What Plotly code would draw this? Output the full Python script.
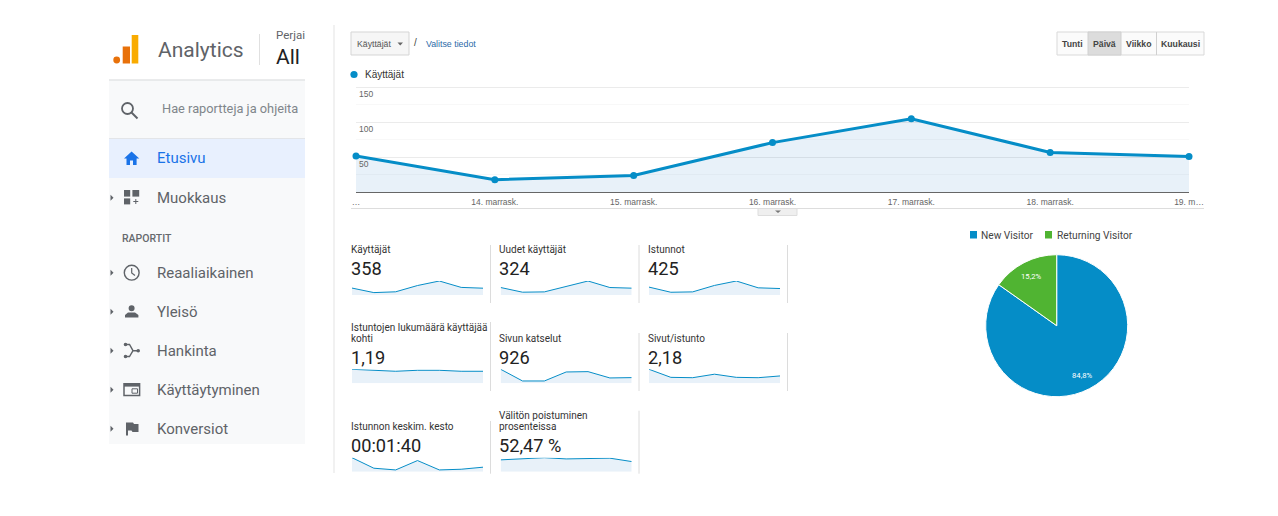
import plotly.graph_objects as go

# page has an 8px body margin, so the figure is that much smaller than the window
PAGE_MARGIN = 8
W = 1278 - PAGE_MARGIN
H = 516 - PAGE_MARGIN

# main line chart
days = ['…', '14. marrask.', '15. marrask.', '16. marrask.', '17. marrask.', '18. marrask.', '19. m…']
users_daily = [52, 18, 24, 71, 105, 57, 51]
y_ticks = [50, 100, 150]

# metric panels, daily values read from the sparklines
metric_names = ['Käyttäjät', 'Uudet käyttäjät', 'Istunnot',
                'Istuntojen lukumäärä käyttäjää<br>kohti', 'Sivun katselut', 'Sivut/istunto',
                'Istunnon keskim. kesto', 'Välitön poistuminen<br>prosenteissa']
metric_values = ['358', '324', '425', '1,19', '926', '2,18', '00:01:40', '52,47 %']
new_users = [48, 18, 20, 55, 90, 48, 44]
sessions = [66, 23, 26, 80, 117, 60, 54]
sessions_per_user = [1.27, 1.21, 1.09, 1.18, 1.18, 1.09, 1.09]
page_views = [246, 41, 41, 199, 205, 94, 100]
pages_per_session = [4.0, 1.7, 1.6, 2.6, 1.7, 1.6, 2.1]
avg_duration = [245, 61, 31, 195, 31, 43, 79]
bounce_rate = [49, 53, 58, 53, 53, 56, 42]
metric_series = [users_daily, new_users, sessions, sessions_per_user, page_views,
                 pages_per_session, avg_duration, bounce_rate]

# pie
pie_labels = ['New Visitor', 'Returning Visitor']
pie_values = [84.8, 15.2]
pie_texts = ['84,8%', '15,2%']

# sidebar
nav_items = ['Reaaliaikainen', 'Yleisö', 'Hankinta', 'Käyttäytyminen', 'Konversiot']
period_buttons = ['Tunti', 'Päivä', 'Viikko', 'Kuukausi']

BLUE = '#058dc7'
GREEN = '#50b432'
FILL = 'rgba(0,100,190,0.09)'
GREY = '#5f6368'
ARIAL = 'Liberation Sans'
ROBOTO = 'Roboto'

shapes = []
annotations = []


# window pixels to paper fractions
def px(x):
    return (x - PAGE_MARGIN) / W


def py(y):
    return 1 - (y - PAGE_MARGIN) / H


def rect(x0, y0, x1, y1, fill=None, line=None, width=1):
    shapes.append(dict(type='rect', xref='paper', yref='paper', x0=px(x0), x1=px(x1),
                       y0=py(y0), y1=py(y1), fillcolor=fill or 'rgba(0,0,0,0)',
                       line=dict(color=line or 'rgba(0,0,0,0)', width=width if line else 0)))


def hline(x0, x1, y, color, width=1):
    shapes.append(dict(type='line', xref='paper', yref='paper', x0=px(x0), x1=px(x1),
                       y0=py(y), y1=py(y), line=dict(color=color, width=width)))


def vline(x, y0, y1, color, width=1):
    shapes.append(dict(type='line', xref='paper', yref='paper', x0=px(x), x1=px(x),
                       y0=py(y0), y1=py(y1), line=dict(color=color, width=width)))


# cmds is a list like 'M', (x, y), 'L', (x, y) in window pixels
def path(cmds, fill=None, line=None, width=1):
    out = []
    for c in cmds:
        if isinstance(c, str):
            out.append(c)
        else:
            out.append(f'{px(c[0]):.5f},{py(c[1]):.5f}')
    shapes.append(dict(type='path', xref='paper', yref='paper', path=' '.join(out),
                       fillcolor=fill or 'rgba(0,0,0,0)',
                       line=dict(color=line or 'rgba(0,0,0,0)', width=width if line else 0)))


def circle(cx, cy, r, fill=None, line=None, width=1):
    shapes.append(dict(type='circle', xref='paper', yref='paper', x0=px(cx - r), x1=px(cx + r),
                       y0=py(cy - r), y1=py(cy + r), fillcolor=fill or 'rgba(0,0,0,0)',
                       line=dict(color=line or 'rgba(0,0,0,0)', width=width if line else 0)))


def label(x, y, text, size, color='#333333', family=ROBOTO, anchor='left', weight=None):
    annotations.append(dict(xref='paper', yref='paper', x=px(x), y=py(y), text=text, showarrow=False,
                            xanchor=anchor, yanchor='middle', align='left', borderpad=0, borderwidth=0,
                            font=dict(size=size, color=color, family=family, weight=weight)))


fig = go.Figure()

# sidebar background
rect(109, 80, 305, 444, fill='#f8f9fa')
hline(109, 305, 80, '#e3e4e6', 1.5)
hline(109, 305, 138.5, '#e3e5e8')
rect(109, 139, 305, 178, fill='#e8f0fe')

# logo and header
circle(116.7, 60, 3.4, fill='#e8710a')
rect(122.7, 46.5, 130, 63.5, fill='#e8710a')
rect(131.7, 35, 138.3, 63.5, fill='#f9ab00')
label(158, 50, 'Analytics', 21, GREY)
vline(259.5, 34, 65, '#e0e0e0')
label(276, 35, 'Perjai', 11.5, GREY)
label(276, 57, 'All', 21, '#202124')

# search
circle(127.5, 108.5, 5.5, line=GREY, width=1.8)
path(['M', (131.5, 112.5), 'L', (137.5, 118.5)], line=GREY, width=2)
label(162, 109, 'Hae raportteja ja ohjeita', 12.8, '#80868b')

# nav
label(157, 158.5, 'Etusivu', 15, '#1a73e8')
label(157, 197.5, 'Muokkaus', 15, GREY)
label(122, 238.5, 'RAPORTIT', 10.5, '#666a6e', weight=500)
for i, item in enumerate(nav_items):
    label(157, 272.5 + 39 * i, item, 15, GREY)

# expand arrows
for y in [197.7, 272.7, 311.7, 350.7, 389.7, 428.7]:
    path(['M', (110.5, y - 3), 'L', (113.5, y), 'L', (110.5, y + 3), 'Z'], fill=GREY)

# home icon
path(['M', (131.6, 151.5), 'L', (124, 158.6), 'L', (126.5, 158.6), 'L', (126.5, 165), 'L', (130, 165),
      'L', (130, 160.5), 'L', (133, 160.5), 'L', (133, 165), 'L', (136.6, 165), 'L', (136.6, 158.6),
      'L', (139.3, 158.6), 'Z'], fill='#1a73e8')
# customise icon
rect(124, 190, 130.2, 196.6, fill=GREY)
rect(132.4, 190, 139.2, 196.6, fill=GREY)
rect(124, 198.4, 130.2, 204.4, fill=GREY)
path(['M', (135.8, 199), 'L', (135.8, 204), 'M', (133.3, 201.5), 'L', (138.3, 201.5)], line=GREY, width=1)
# clock
circle(131.7, 272.7, 7.4, line=GREY, width=1.4)
path(['M', (131.7, 268), 'L', (131.7, 273), 'L', (135, 275.5)], line=GREY, width=1.2)
# person
circle(131.6, 308.2, 3, fill=GREY)
path(['M', (125, 317.4), 'L', (125, 315), 'L', (128, 312.6), 'L', (135, 312.6), 'L', (138.4, 315),
      'L', (138.4, 317.4), 'Z'], fill=GREY)
# acquisition
path(['M', (125.5, 344.5), 'L', (129.5, 344.5), 'L', (133, 350.7), 'L', (138, 350.7),
      'M', (133, 350.7), 'L', (129.5, 356.5), 'L', (125.5, 356.5)], line=GREY, width=1.4)
circle(125.5, 344.5, 1.8, fill=GREY)
circle(125.5, 356.5, 1.8, fill=GREY)
circle(138.2, 350.7, 1.8, fill=GREY)
# behaviour
rect(124, 383.8, 139.6, 395.4, line=GREY, width=1.5)
rect(124, 383.8, 139.6, 386.6, fill=GREY)
rect(132, 388.8, 137.5, 393.2, line=GREY, width=1)
# flag
path(['M', (126, 422.5), 'L', (133, 422.5), 'L', (134, 424), 'L', (138.5, 424), 'L', (138.5, 432),
      'L', (132.5, 432), 'L', (131.5, 430.5), 'L', (128, 430.5), 'L', (128, 435.5), 'L', (126, 435.5), 'Z'],
     fill=GREY)

# divider between nav and report
vline(334, 25, 473, '#f1f1f1', 2)

# controls above the chart
rect(351, 32, 409, 55, fill='#f6f6f6', line='#d5d5d5')
label(357, 44, 'Käyttäjät', 8.7, '#555555', ARIAL)
path(['M', (397.5, 42.5), 'L', (403, 42.5), 'L', (400.2, 45.5), 'Z'], fill='#666666')
label(413.5, 43, '/', 10, '#444444', ARIAL)
label(426, 44, 'Valitse tiedot', 8.8, '#2b6aa8', ARIAL)

# period buttons
button_edges = [1057, 1088, 1121, 1156.5, 1204]
rect(1057, 32, 1204, 55, fill='#fbfbfb', line='#d9d9d9')
rect(1088, 32, 1121, 55, fill='#dcdcdc', line='#d0d0d0')
for i, name in enumerate(period_buttons):
    if i == 3:
        vline(button_edges[i], 32, 55, '#d0d0d0')
    label((button_edges[i] + button_edges[i + 1]) / 2, 43.7, name, 8.7, '#444444', ARIAL,
          anchor='center', weight='bold')

# legend of the line chart
circle(354, 74.5, 3.6, fill=BLUE)
label(365, 74.5, 'Käyttäjät', 10, '#333333', ARIAL)

# top edge of the plot, the grid does not show there
hline(356, 1189, 87.5, '#ebebeb')

# handle under the chart
hline(351, 1204, 208.5, '#dddddd')
rect(758, 208.5, 797, 215.5, fill='#efefef', line='#dddddd')
path(['M', (775, 210.5), 'L', (781, 210.5), 'L', (778, 213), 'Z'], fill='#777777')

# main chart
fig.add_trace(go.Scatter(x=days, y=users_daily, mode='lines+markers', fill='tozeroy', fillcolor=FILL,
                         line=dict(color=BLUE, width=3), marker=dict(color=BLUE, size=7),
                         cliponaxis=False, showlegend=False, hoverinfo='x+y'))

# the default template turns automargin on, which would shrink the paper area
layout_axes = dict(
    xaxis=dict(domain=[px(356), px(1189)], type='category', categoryorder='array', categoryarray=days,
               range=[0, 6], anchor='y', showgrid=False, showline=True, linecolor='#666666', linewidth=1,
               ticks='outside', ticklen=1, tickcolor='rgba(0,0,0,0)', tickangle=0, zeroline=False,
               automargin=False, tickfont=dict(size=8.5, color='#666666', family=ARIAL)),
    yaxis=dict(domain=[py(192.3), py(87.3)], range=[0, 150], dtick=50, anchor='x', showticklabels=False,
               showgrid=True, gridcolor='#ebebeb', gridwidth=1, zeroline=False, automargin=False,
               minor=dict(dtick=25, showgrid=True, gridcolor='#f8f8f8', gridwidth=1)),
)

for tick in y_ticks:
    annotations.append(dict(xref='paper', yref='y', x=px(358), y=tick, yshift=-7, text=str(tick),
                            showarrow=False, xanchor='left', yanchor='middle', borderpad=0,
                            font=dict(size=8.5, color='#666666', family=ARIAL)))

# metric panels
col_x = [351, 499, 648]
spark_left = [352, 500.7, 649]
spark_width = 131
sep_x = [490.5, 639, 787.5]
name_y = [249.5, 338.5, 426.7]
value_y = [268.5, 357.5, 445.5]
spark_bottom = [295, 383.3, 471.7]
sep_tops = [[245, 245, 245], [322, 333, 333], [421, 410.7, None]]
sep_bottoms = [303, 391, 473.7]

for r in range(3):
    for c in range(3):
        if sep_tops[r][c] is not None:
            vline(sep_x[c], sep_tops[r][c], sep_bottoms[r], '#dcdcdc')

for i, (name, value, series) in enumerate(zip(metric_names, metric_values, metric_series)):
    r, c = divmod(i, 3)
    if '<br>' in name:
        first, second = name.split('<br>')
        label(col_x[c], name_y[r] - 11.3, first, 10, '#333333')
        label(col_x[c], name_y[r], second, 10, '#333333')
    else:
        label(col_x[c], name_y[r], name, 10, '#333333')
    label(col_x[c], value_y[r], value, 18.2, '#222222')

    n = i + 2
    fig.add_trace(go.Scatter(x=list(range(len(series))), y=series, mode='lines', fill='tozeroy', fillcolor=FILL,
                             line=dict(color=BLUE, width=1), cliponaxis=False, showlegend=False,
                             xaxis=f'x{n}', yaxis=f'y{n}', hoverinfo='y'))
    layout_axes[f'xaxis{n}'] = dict(domain=[px(spark_left[c]), px(spark_left[c] + spark_width)],
                                    range=[0, 6], visible=False, anchor=f'y{n}')
    layout_axes[f'yaxis{n}'] = dict(domain=[py(spark_bottom[r]), py(spark_bottom[r] - 14)],
                                    range=[0, max(series)], visible=False, anchor=f'x{n}')

# pie
fig.add_trace(go.Pie(labels=pie_labels, values=pie_values, sort=False, direction='clockwise', rotation=0,
                     marker=dict(colors=[BLUE, GREEN], line=dict(color='white', width=1)),
                     domain=dict(x=[px(985.7), px(1127.7)], y=[py(396.7), py(254.7)]),
                     textinfo='none', showlegend=False))
label(1082, 375.7, pie_texts[0], 7.7, 'white', anchor='center')
label(1031, 276.5, pie_texts[1], 7.7, 'white', anchor='center')

# pie legend
rect(970, 231, 977, 238.5, fill=BLUE)
label(981, 235, pie_labels[0], 10.2, '#444444')
rect(1045, 231, 1052, 238.5, fill=GREEN)
label(1057, 235, pie_labels[1], 10.2, '#444444')

fig.update_layout(width=W, height=H, margin=dict(l=0, r=0, t=0, b=0), paper_bgcolor='white',
                  plot_bgcolor='rgba(0,0,0,0)', separators=', ', shapes=shapes, annotations=annotations,
                  **layout_axes)

fig.write_html("out.html")
